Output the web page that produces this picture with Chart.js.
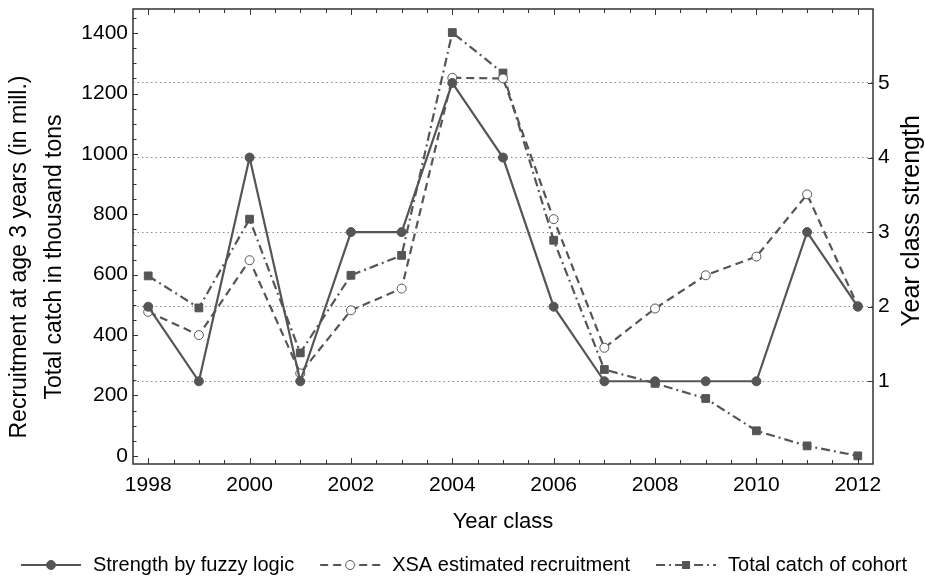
<!DOCTYPE html>
<html lang="en">
<head>
<meta charset="UTF-8">
<title>Year class strength</title>
<script src="https://cdn.jsdelivr.net/npm/chart.js"></script>
<style>
  html, body { margin: 0; padding: 0; background: #fff; overflow: hidden; }
  #wrap { width: 925px; height: 585px; }
</style>
</head>
<body>
<div id="wrap"><canvas id="yearClassChart"></canvas></div>
<script>
// data
const years = [1998, 1999, 2000, 2001, 2002, 2003, 2004, 2005, 2006, 2007, 2008, 2009, 2010, 2011, 2012];
const fuzzyStrength = [2, 1, 4, 1, 3, 3, 5, 4, 2, 1, 1, 1, 1, 3, 2];
const xsaRecruitment = [477, 400, 648, 273, 482, 554, 1252, 1250, 784, 358, 488, 598, 660, 866, 496];
const totalCatch = [596, 490, 784, 341, 598, 664, 1402, 1268, 714, 286, 240, 190, 83, 33, 0];

const seriesNames = ['Strength by fuzzy logic', 'XSA estimated recruitment', 'Total catch of cohort'];
const xTicks = [1998, 2000, 2002, 2004, 2006, 2008, 2010, 2012];
const leftTicks = [0, 200, 400, 600, 800, 1000, 1200, 1400];
const rightTicks = [1, 2, 3, 4, 5];
const leftTitle = ['Recruitment at age 3 years (in mill.)', 'Total catch in thousand tons'];
const rightTitle = 'Year class strength';
const xTitle = 'Year class';

const FONT = "'Liberation Sans', Arial, sans-serif";
const INK = '#555555';

// legend symbol: short line with the marker in the middle
function makeIcon(dash, marker) {
  const c = document.createElement('canvas');
  c.width = 86; c.height = 20;
  const g = c.getContext('2d');
  g.strokeStyle = INK; g.lineWidth = 2; g.setLineDash(dash);
  g.beginPath(); g.moveTo(24, 10); g.lineTo(84, 10); g.stroke();
  g.setLineDash([]);
  if (marker === 'rect') {
    g.fillStyle = INK; g.fillRect(50, 6, 8, 8);
  } else {
    g.beginPath(); g.arc(54, 10, 4.5, 0, Math.PI * 2);
    g.fillStyle = marker === 'open' ? '#fff' : INK; g.fill();
    g.lineWidth = 1; g.stroke();
  }
  return c;
}
const legendIcons = [makeIcon([], 'dot'), makeIcon([8, 5], 'open'), makeIcon([9, 4, 2, 4], 'rect')];

const pts = arr => years.map((x, i) => ({ x: x, y: arr[i] }));

// fixed box sizes so the plot area lands where the original's does
const fixBox = (w, h) => s => {
  if (w) s.width = w;
  if (h) s.height = h;
  s.paddingTop = 0; s.paddingBottom = 0; s.paddingLeft = 0; s.paddingRight = 0;
};

// inward ticks + frame
const frameAndTicks = {
  id: 'frameAndTicks',
  afterDatasetsDraw(chart) {
    const { ctx, chartArea: a, scales: { x, y, y1 } } = chart;
    ctx.save();
    ctx.strokeStyle = '#333'; ctx.lineWidth = 1;
    ctx.beginPath();
    for (let v = 1998; v <= 2012; v += 0.5) {
      const px = Math.round(x.getPixelForValue(v)) + 0.5;
      const len = v % 2 === 0 ? 6 : 4;
      ctx.moveTo(px, a.bottom); ctx.lineTo(px, a.bottom - len);
      ctx.moveTo(px, a.top); ctx.lineTo(px, a.top + len);
    }
    for (let v = 0; v <= 1450; v += 50) {
      const py = Math.round(y.getPixelForValue(v)) + 0.5;
      const len = v % 200 === 0 ? 5 : 3.5;
      ctx.moveTo(a.left, py); ctx.lineTo(a.left + len, py);
    }
    rightTicks.forEach(v => {
      const py = Math.round(y1.getPixelForValue(v)) + 0.5;
      ctx.moveTo(a.right, py); ctx.lineTo(a.right - 5, py);
    });
    ctx.stroke();
    ctx.lineWidth = 1.5;
    ctx.strokeRect(a.left, a.top, a.right - a.left, a.bottom - a.top);
    ctx.restore();
  }
};

// vertical titles, both read bottom-to-top
const sideTitles = {
  id: 'sideTitles',
  afterDraw(chart) {
    const { ctx, chartArea: a } = chart;
    const up = (text, x, y) => {
      ctx.save(); ctx.translate(x, y); ctx.rotate(-Math.PI / 2);
      ctx.fillText(text, 0, 0); ctx.restore();
    };
    ctx.save();
    ctx.fillStyle = '#000';
    ctx.textAlign = 'center'; ctx.textBaseline = 'middle';
    ctx.font = '23px ' + FONT;
    up(leftTitle[0], a.left - 113, 257);
    up(leftTitle[1], a.left - 78, 257);
    ctx.font = '25px ' + FONT;
    up(rightTitle, a.right + 39, 221);
    ctx.restore();
  }
};

// nudge the legend row so it starts where the original does
const legendShift = {
  id: 'legendShift',
  afterLayout(chart) { chart.legend.left -= 21; }
};

new Chart(document.getElementById('yearClassChart'), {
  type: 'line',
  data: {
    datasets: [{
      label: seriesNames[0],
      data: pts(fuzzyStrength),
      yAxisID: 'y1',
      borderColor: INK, borderWidth: 2.2,
      pointStyle: 'circle', pointRadius: 4.5,
      pointBackgroundColor: INK, pointBorderColor: INK, pointBorderWidth: 1
    }, {
      label: seriesNames[1],
      data: pts(xsaRecruitment),
      yAxisID: 'y',
      borderColor: INK, borderWidth: 2.2, borderDash: [8, 5],
      pointStyle: 'circle', pointRadius: 4.5,
      pointBackgroundColor: '#fff', pointBorderColor: INK, pointBorderWidth: 1
    }, {
      label: seriesNames[2],
      data: pts(totalCatch),
      yAxisID: 'y',
      borderColor: INK, borderWidth: 2.2, borderDash: [9, 4, 2, 4],
      pointStyle: 'rect', pointRadius: 5.5,
      pointBackgroundColor: INK, pointBorderColor: INK, pointBorderWidth: 1
    }]
  },
  options: {
    responsive: true,
    maintainAspectRatio: false,
    animation: false,
    layout: { padding: { top: 9, left: 0, right: 0, bottom: 0 } },
    plugins: {
      tooltip: { enabled: false },
      legend: {
        position: 'bottom',
        labels: {
          usePointStyle: true,
          pointStyleWidth: 86,
          padding: 2,
          color: '#000',
          font: { family: FONT, size: 20 },
          generateLabels: chart => chart.data.datasets.map((ds, i) => ({
            text: ds.label, pointStyle: legendIcons[i], datasetIndex: i,
            fontColor: '#000', lineWidth: 0, strokeStyle: 'rgba(0,0,0,0)',
            fillStyle: 'rgba(0,0,0,0)', hidden: false
          }))
        }
      }
    },
    scales: {
      x: {
        type: 'linear', min: 1997.7, max: 2012.3,
        afterBuildTicks: s => { s.ticks = xTicks.map(v => ({ value: v })); },
        afterFit: fixBox(0, 89),
        grid: { drawOnChartArea: false, drawTicks: false },
        border: { display: false },
        ticks: { color: '#000', font: { family: FONT, size: 21 }, padding: 9, callback: v => String(v), maxRotation: 0 },
        title: { display: true, text: xTitle, color: '#000', font: { family: FONT, size: 22 }, padding: { top: 0, bottom: 18 } }
      },
      y: {
        type: 'linear', position: 'left', min: -27, max: 1480,
        afterBuildTicks: s => { s.ticks = leftTicks.map(v => ({ value: v })); },
        afterFit: fixBox(133, 0),
        grid: { drawOnChartArea: false, drawTicks: false },
        border: { display: false },
        ticks: { color: '#000', font: { family: FONT, size: 21 }, padding: 5, callback: v => String(v) }
      },
      y1: {
        type: 'linear', position: 'right', min: -27 / 247, max: 1480 / 247,
        afterBuildTicks: s => { s.ticks = rightTicks.map(v => ({ value: v })); },
        afterFit: fixBox(52, 0),
        grid: { drawOnChartArea: true, drawTicks: false, color: '#8a8a8a', lineWidth: 1 },
        border: { display: false, dash: [1.5, 3] },
        ticks: { color: '#000', font: { family: FONT, size: 21 }, padding: 5, callback: v => String(v) }
      }
    }
  },
  plugins: [frameAndTicks, sideTitles, legendShift]
});
</script>
</body>
</html>
